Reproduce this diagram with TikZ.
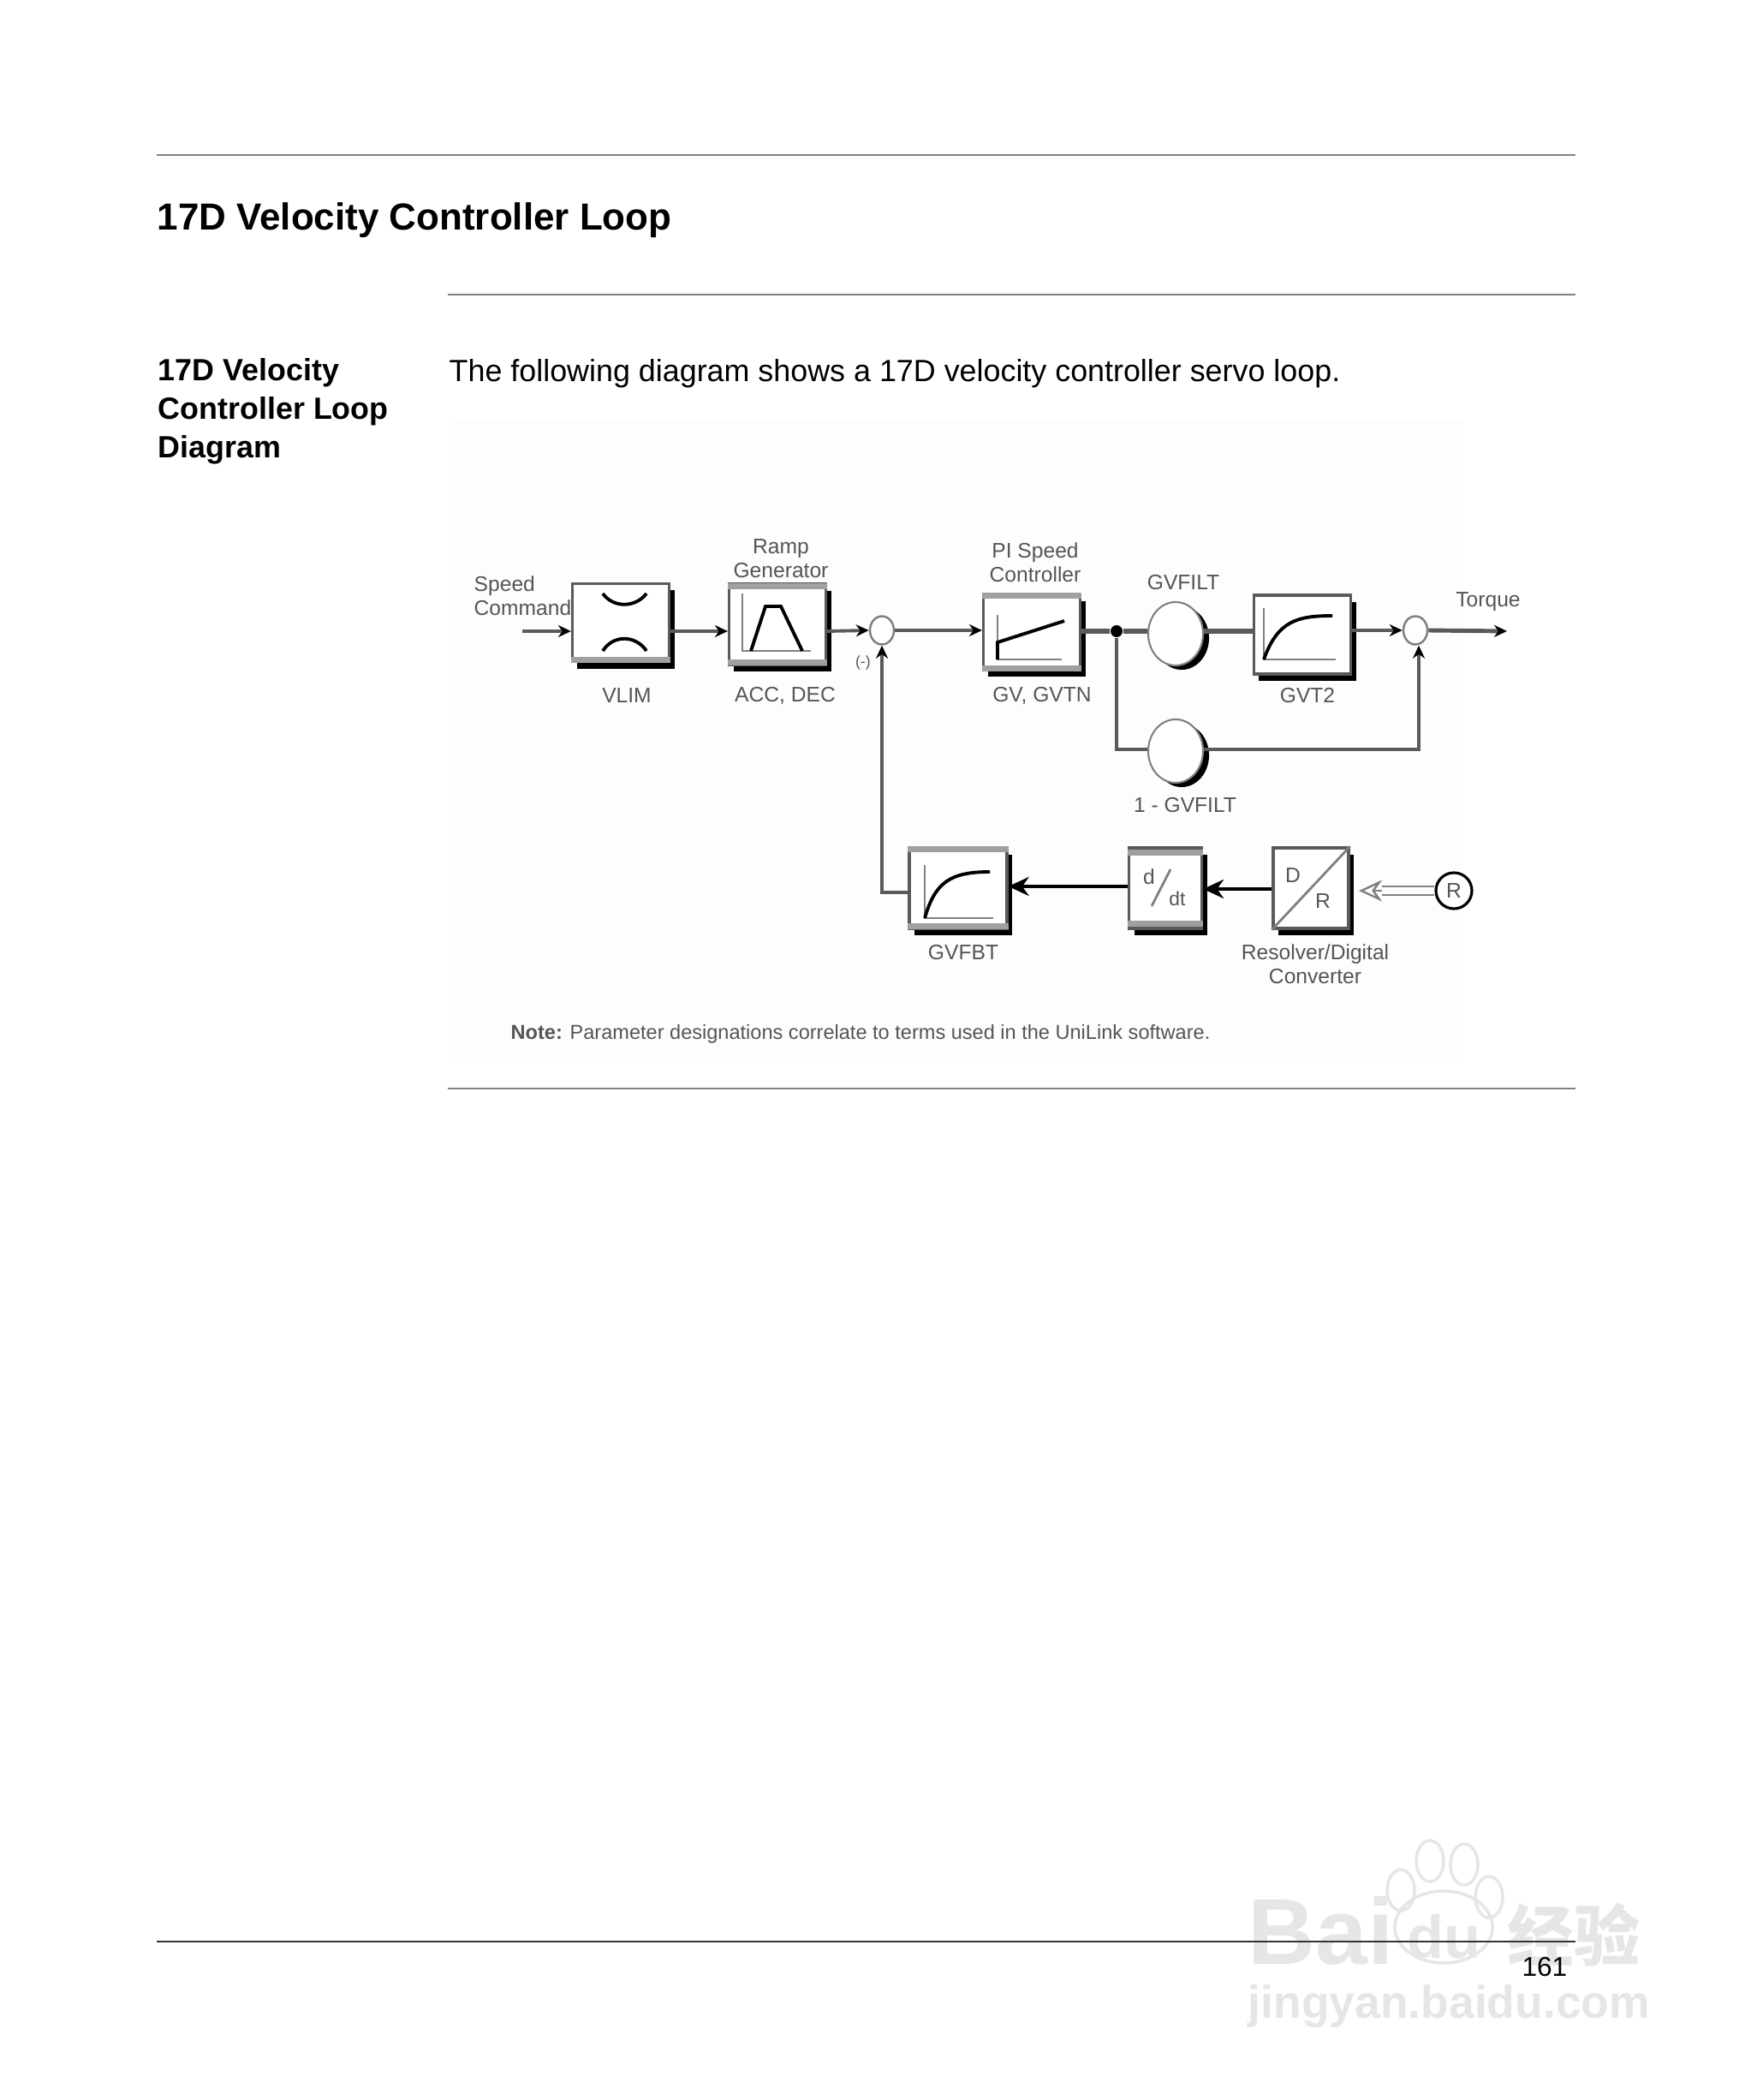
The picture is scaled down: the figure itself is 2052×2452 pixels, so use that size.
\documentclass[tikz,border=0pt]{standalone}
\usepackage{fontspec}
\setmainfont{Liberation Sans}
\newfontfamily\cjkwm{Noto Sans CJK SC}
\usetikzlibrary{arrows.meta,shadows,positioning,shapes.geometric}
\definecolor{wmark}{HTML}{E6E6E6}
\definecolor{diagtext}{HTML}{555555}
\definecolor{linegray}{HTML}{5A5A5A}
\definecolor{ruleg}{HTML}{808080}
\definecolor{bandg}{HTML}{A0A0A0}
\tikzset{
  x=0.01cm,y=-0.01cm,
  rulel/.style={draw=ruleg,line width=0.5pt},
  blockbox/.style={draw=linegray,line width=0.9pt,fill=white,inner sep=0,
    drop shadow={shadow xshift=0.06cm,shadow yshift=-0.08cm,fill=black,opacity=1}},
  gainc/.style={ellipse,draw=gray,line width=0.6pt,fill=white,inner sep=0,minimum width=0.64cm,minimum height=0.74cm,
    drop shadow={shadow xshift=0.07cm,shadow yshift=-0.05cm,fill=black,opacity=1}},
  sumc/.style={ellipse,draw=gray,line width=0.7pt,fill=white,inner sep=0,minimum width=0.28cm,minimum height=0.33cm},
  lbl/.style={text=diagtext,font=\fontsize{7}{8}\selectfont,inner sep=0,align=center},
  conn/.style={draw=linegray,line width=1.1pt},
  connfine/.style={conn,-{Stealth[length=0.15cm,width=0.14cm,black]}},
  backarrow/.style={draw=black,line width=1.2pt,-{Stealth[length=0.24cm,width=0.22cm,black]}},
  curve/.style={draw=black,line width=1.1pt},
  axisl/.style={draw=gray,line width=0.8pt},
  bandl/.style={draw=bandg,line width=2pt},
  bodyt/.style={font=\fontsize{10.2}{14}\selectfont,inner sep=0,anchor=base west},
  headt/.style={font=\fontsize{12.5}{16}\selectfont\bfseries,inner sep=0,anchor=base west},
  sidet/.style={font=\fontsize{10.2}{12.8}\selectfont\bfseries,inner sep=0,anchor=north west,align=left},
}
\begin{document}
\begin{tikzpicture}
\useasboundingbox[fill=white] (0,0) rectangle (2052,2452);
% watermark
\node[inner sep=0,text=wmark,font=\fontsize{31}{31}\selectfont\bfseries,anchor=base west] (wmbai) at (1457,2293) {Bai};
\foreach \xc/\yc in {1636/2207,1670/2173,1710/2177,1739/2215}
  \draw[wmark,line width=1pt] (\xc,\yc) ellipse (0.16cm and 0.24cm);
\draw[wmark,line width=1pt] (1686,2250) ellipse (0.57cm and 0.42cm);
\node[inner sep=0,text=wmark,font=\fontsize{20}{20}\selectfont\bfseries,anchor=base] (wmdu) at (1686,2286) {du};
\node[inner sep=0,text=wmark,font=\fontsize{22}{22}\selectfont\bfseries\cjkwm,anchor=base west] (wmcn) at (1760,2289) {经验};
\node[inner sep=0,text=wmark,font=\fontsize{15.2}{16}\selectfont\bfseries,anchor=base west] (wmurl) at (1457,2356) {jingyan.baidu.com};
% page rules and text
\fill[black!0.6] (525,490) rectangle (1710,1240);
\draw[rulel] (183,181) -- (1840,181);
\draw[rulel] (523,344) -- (1840,344);
\draw[rulel] (523,1271) -- (1840,1271);
\draw[black!80,line width=0.5pt] (183,2267) -- (1840,2267);
\node[headt] (title) at (183,269) {17D Velocity Controller Loop};
\node[sidet] (side) at (184,418) {17D Velocity\\Controller Loop\\Diagram};
\node[bodyt] (intro) at (524,446) {The following diagram shows a 17D velocity controller servo loop.};
\node[font=\fontsize{9}{11}\selectfont,inner sep=0,anchor=base east] (page) at (1831,2307) {161};
% blocks
\node[blockbox,minimum width=1.13cm,minimum height=0.91cm] (vlim) at (725,727) {};
\node[blockbox,minimum width=1.13cm,minimum height=0.94cm] (ramp) at (908,729) {};
\node[blockbox,minimum width=1.13cm,minimum height=0.88cm] (pi) at (1205,738) {};
\node[blockbox,minimum width=1.13cm,minimum height=0.92cm] (gvt) at (1521,741) {};
\node[blockbox,minimum width=1.14cm,minimum height=0.94cm] (fbt) at (1119,1037) {};
\node[blockbox,minimum width=0.85cm,minimum height=0.94cm] (ddt) at (1361,1037) {};
\node[blockbox,minimum width=0.88cm,minimum height=0.94cm] (dr) at (1531,1037) {};
\node[gainc] (filt) at (1373,740) {};
\node[gainc] (filtb) at (1373,877) {};
\node[sumc] (s1) at (1030,736) {};
\node[sumc] (s2) at (1653,736) {};
\node[circle,fill=black,inner sep=0,minimum size=0.14cm] (jn) at (1304,737) {};
\node[circle,draw=black,line width=0.9pt,fill=white,inner sep=0,minimum size=0.42cm,font=\fontsize{7}{8}\selectfont,text=diagtext] (res) at (1698,1040) {R};
% bevel bands
\draw[bandl] ([yshift=0.04cm]vlim.south west) -- ([yshift=0.04cm]vlim.south east);
\draw[bandl] ([yshift=-0.04cm]ramp.north west) -- ([yshift=-0.04cm]ramp.north east);
\draw[bandl] ([yshift=0.04cm]ramp.south west) -- ([yshift=0.04cm]ramp.south east);
\draw[bandl] ([yshift=-0.03cm]pi.north west) -- ([yshift=-0.03cm]pi.north east);
\draw[bandl] ([yshift=0.03cm]pi.south west) -- ([yshift=0.03cm]pi.south east);
\draw[bandl] ([yshift=-0.03cm]fbt.north west) -- ([yshift=-0.03cm]fbt.north east);
\draw[bandl] ([yshift=0.04cm]fbt.south west) -- ([yshift=0.04cm]fbt.south east);
\draw[bandl] ([yshift=-0.07cm]ddt.north west) -- ([yshift=-0.07cm]ddt.north east);
\draw[bandl] ([yshift=0.07cm]ddt.south west) -- ([yshift=0.07cm]ddt.south east);
\coordinate (cin) at (610,737);
\coordinate (cout) at (1760,737);
\coordinate (cjb) at (1304,875);
\coordinate (cs2b) at (1657,875);
\coordinate (cfb) at (1030,1042);
\coordinate (cya) at (0,1035);
\coordinate (cyb) at (0,1038);
\coordinate (chol) at (1614,1040);
\coordinate (cholt) at (1587,1040);
% connectors
\draw[connfine] (cin) -- (cin -| vlim.west);
\draw[connfine] (vlim.east |- cin) -- (ramp.west |- cin);
\draw[connfine] (ramp.east |- cin) -- (s1.west);
\draw[connfine] (s1.east) -- (pi.west |- s1.east);
\draw[conn,line width=1.5pt] (pi.east |- jn) -- (jn);
\draw[conn,line width=1.5pt] (jn) -- (jn -| filt.west);
\draw[conn,line width=1.5pt] (jn -| filt.east) -- (jn -| gvt.west);
\draw[connfine,line width=1.4pt] (gvt.east |- s2) -- (s2.west);
\draw[connfine,line width=1.4pt] (s2.east) -- (cout);
\draw[conn] (jn) -- (cjb) -- (cjb -| filtb.west);
\draw[connfine] (cjb -| filtb.east) -- (cs2b) -- (cs2b |- s2.south);
\draw[connfine] (fbt.west |- cfb) -- (cfb) -- (s1.south);
\draw[backarrow] (ddt.west |- cya) -- (fbt.east |- cya);
\draw[backarrow] (dr.west |- cyb) -- (ddt.east |- cyb);
\draw[draw=gray,line width=0.7pt,double=white,double distance=2.2pt] (res.west) -- (chol);
\draw[draw=gray,line width=0.7pt,-{Stealth[open,fill=white,length=0.27cm,width=0.25cm]}] (chol) -- (cholt);
% block contents
\draw[curve] (704,693) .. controls (716,710) and (742,710) .. (755,693);
\draw[curve] (704,760) .. controls (716,741) and (742,741) .. (755,760);
\draw[axisl] (867,693) -- (867,760) -- (947,760);
\draw[curve] (877,760) -- (894,708) -- (912,708) -- (937,760);
\draw[axisl] (1165,718) -- (1165,770) -- (1240,770);
\draw[curve] (1165,770) -- (1165,750) -- (1243,725);
\draw[axisl] (1476,710) -- (1476,770) -- (1560,770);
\draw[curve] (1476,770) .. controls (1492,725) and (1515,719) .. (1556,719);
\draw[axisl] (1080,1010) -- (1080,1072) -- (1160,1072);
\draw[curve] (1080,1072) .. controls (1092,1030) and (1110,1018) .. (1156,1018);
\node[lbl] (dn) at (1342,1024) {d};
\draw[axisl] (1345,1058) -- (1367,1015);
\node[lbl,font=\fontsize{6.5}{8}\selectfont] (dtl) at (1375,1049) {dt};
\draw[axisl] (dr.south west) -- (dr.north east);
\node[lbl] (dl) at (1510,1022) {D};
\node[lbl] (rl) at (1545,1052) {R};
% labels
\node[lbl,anchor=north west,align=left] (speed) at (553,672) {Speed\\Command};
\node[lbl] (ramplbl) at (912,652) {Ramp\\Generator};
\node[lbl] (pilbl) at (1209,657) {PI Speed\\Controller};
\node[lbl] (filtl) at (1382,680) {GVFILT};
\node[lbl] (torque) at (1738,703) {Torque};
\node[lbl] (vliml) at (732,812) {VLIM};
\node[lbl] (accl) at (917,812) {ACC, DEC};
\node[lbl] (gvl) at (1217,812) {GV, GVTN};
\node[lbl] (gvt2l) at (1527,812) {GVT2};
\node[lbl] (filtbl) at (1384,940) {1 - GVFILT};
\node[lbl] (fbtl) at (1125,1112) {GVFBT};
\node[lbl] (resl) at (1536,1126) {Resolver/Digital\\Converter};
\node[lbl,font=\fontsize{5}{6}\selectfont] (minus) at (1008,774) {(-)};
\node[lbl,anchor=west,font=\fontsize{6.7}{8}\selectfont] (note) at (596,1207) {\textbf{Note:} Parameter designations correlate to terms used in the UniLink software.};
\end{tikzpicture}
\end{document}
